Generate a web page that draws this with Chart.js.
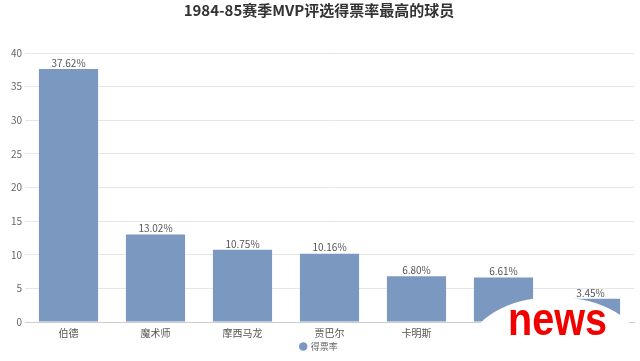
<!DOCTYPE html>
<html>
<head>
<meta charset="utf-8">
<script src="https://cdn.jsdelivr.net/npm/chart.js@4/dist/chart.umd.min.js"></script>
<style>
html,body{margin:0;padding:0;background:#fff;}
#wrap{position:relative;width:640px;height:361px;overflow:hidden;}
#logo{position:absolute;left:470px;top:297px;width:170px;height:100px;background:#fff;border-radius:50%;}
#logoText{position:absolute;left:508px;top:292px;font-family:"Liberation Sans",Arial,sans-serif;font-weight:bold;font-size:46px;color:#f20000;transform:scaleX(0.86);transform-origin:left top;}
</style>
</head>
<body>
<div id="wrap">
<canvas id="c" width="640" height="361"></canvas>
<div id="logo"></div>
<div id="logoText">news</div>
</div>
<script>
const titleText = '1984-85赛季MVP评选得票率最高的球员';
const categories = ['伯德','魔术师','摩西马龙','贾巴尔','卡明斯','乔丹','伯纳德金'];
const voteRate = [37.62, 13.02, 10.75, 10.16, 6.80, 6.61, 3.45];
const seriesName = '得票率';
const yTicks = [0,5,10,15,20,25,30,35,40];

const FONT = '"Noto Sans CJK SC","Microsoft YaHei",sans-serif';

const labelPlugin = {
  id:'barLabels',
  afterDatasetsDraw(chart){
    const ctx = chart.ctx;
    const meta = chart.getDatasetMeta(0);
    ctx.save();
    ctx.font = '10px ' + FONT;
    ctx.fillStyle = '#555';
    ctx.textAlign = 'center';
    ctx.textBaseline = 'bottom';
    meta.data.forEach((bar,i)=>{
      ctx.fillText(voteRate[i].toFixed(2)+'%', bar.x, bar.y - 1);
    });
    ctx.restore();
  }
};

new Chart(document.getElementById('c'), {
  type:'bar',
  data:{
    labels:categories,
    datasets:[{
      label:seriesName,
      data:voteRate,
      backgroundColor:'#7b98c1',
      borderWidth:0,
      barPercentage:0.68,
      categoryPercentage:1.0
    }]
  },
  options:{
    responsive:false,
    animation:false,
    layout:{padding:{left:4,right:6,top:0,bottom:0}},
    plugins:{
      title:{display:true,text:titleText,color:'#333',font:{family:FONT,size:15,weight:'bold'},padding:{top:1,bottom:34}},
      legend:{position:'bottom',labels:{usePointStyle:true,pointStyle:'circle',boxWidth:6,boxHeight:6,color:'#666',font:{family:FONT,size:9},padding:0}},
      tooltip:{enabled:false}
    },
    scales:{
      x:{
        grid:{display:false,drawTicks:false,tickLength:0},
        border:{color:'#ccc'},
        ticks:{color:'#555',font:{family:FONT,size:10},padding:5},
        afterFit(scale){ scale.height = 20; }
      },
      y:{
        min:0,max:40,
        afterBuildTicks(scale){ scale.ticks = yTicks.map(v=>({value:v})); },
        grid:{color:'#e6e6e6',drawTicks:false,tickLength:0},
        border:{display:false},
        ticks:{color:'#666',font:{family:FONT,size:10},padding:3},
        afterFit(scale){ scale.width = 21; }
      }
    }
  },
  plugins:[labelPlugin]
});
</script>
</body>
</html>
